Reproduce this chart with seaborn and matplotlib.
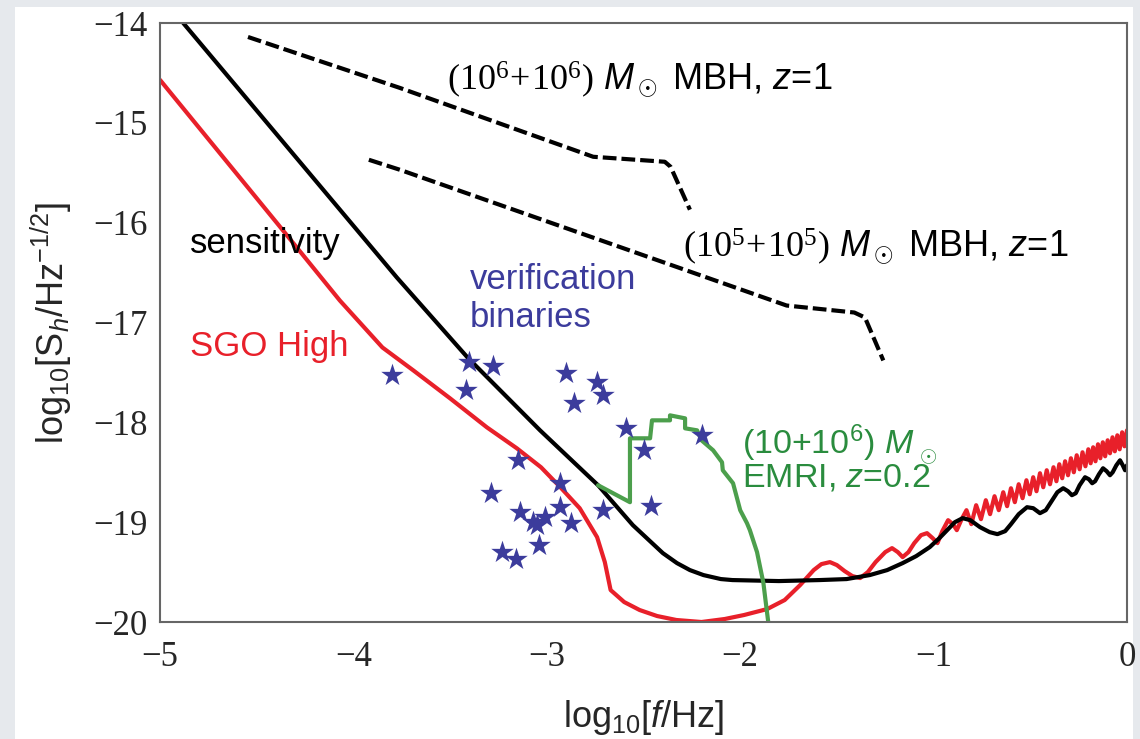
import matplotlib
matplotlib.use("Agg")
import matplotlib.pyplot as plt
import matplotlib.patches as mpatches
import seaborn as sns

# sensitivity curve (black)
sens_x = [-4.88, -3.775, -3.41, -3.035, -2.735, -2.555, -2.40, -2.327, -2.26, -2.19, -2.10, -2.04,
          -1.80, -1.59, -1.45, -1.33, -1.24, -1.16, -1.09, -1.02, -0.97, -0.93, -0.89, -0.85,
          -0.81, -0.76, -0.71, -0.67, -0.63, -0.60, -0.56, -0.517, -0.485, -0.45, -0.42, -0.39,
          -0.36, -0.33, -0.305, -0.285, -0.265, -0.245, -0.217, -0.197, -0.18, -0.165, -0.145,
          -0.124, -0.105, -0.088, -0.074, -0.055, -0.036, -0.022, -0.01, 0.0]
sens_y = [-14.0, -16.55, -17.35, -18.08, -18.63, -19.03, -19.31, -19.41, -19.48, -19.53, -19.57, -19.58,
          -19.59, -19.58, -19.57, -19.53, -19.48, -19.41, -19.34, -19.25, -19.16, -19.08, -19.00, -18.96,
          -18.98, -19.05, -19.10, -19.12, -19.09, -19.02, -18.92, -18.85, -18.86, -18.91, -18.88, -18.79,
          -18.70, -18.66, -18.69, -18.73, -18.71, -18.63, -18.55, -18.57, -18.61, -18.59, -18.52,
          -18.46, -18.49, -18.53, -18.50, -18.43, -18.38, -18.43, -18.48, -18.43]

# SGO High (red)
sgo_x = [-5.0, -4.38, -4.07, -3.85, -3.69, -3.50, -3.31, -3.155, -3.03, -2.93, -2.83,
         -2.74, -2.70, -2.67, -2.60, -2.52, -2.43, -2.33, -2.20, -2.08, -1.98, -1.86, -1.77,
         -1.69, -1.62, -1.58, -1.536, -1.50, -1.46, -1.42, -1.38, -1.34, -1.30, -1.25, -1.215,
         -1.185, -1.16, -1.13, -1.10, -1.065, -1.034, -1.005, -0.98, -0.955, -0.925, -0.90,
         -0.88, -0.855, -0.83, -0.805, -0.78, -0.755, -0.73, -0.708, -0.685, -0.663, -0.64,
         -0.62, -0.60, -0.58, -0.56, -0.54, -0.52, -0.503, -0.485, -0.468, -0.45, -0.433,
         -0.415, -0.398, -0.38, -0.365, -0.35, -0.335, -0.32, -0.305, -0.29, -0.275, -0.26,
         -0.245, -0.23, -0.215, -0.20, -0.188, -0.175, -0.163, -0.15, -0.138, -0.125, -0.113,
         -0.10, -0.088, -0.075, -0.063, -0.05, -0.038, -0.025, -0.013, 0.0]
sgo_y = [-14.57, -16.04, -16.78, -17.25, -17.48, -17.76, -18.05, -18.26, -18.45, -18.65, -18.86,
         -19.15, -19.40, -19.68, -19.80, -19.88, -19.94, -19.98, -20.0, -19.97, -19.93, -19.87, -19.78,
         -19.63, -19.48, -19.42, -19.40, -19.43, -19.49, -19.54, -19.56, -19.50, -19.40, -19.30, -19.26,
         -19.30, -19.35, -19.30, -19.21, -19.13, -19.11, -19.16, -19.21, -19.09, -18.98, -19.02,
         -19.08, -18.97, -18.88, -19.02, -18.83, -18.97, -18.78, -18.92, -18.74, -18.88, -18.70,
         -18.84, -18.66, -18.80, -18.62, -18.76, -18.58, -18.72, -18.55, -18.69, -18.51, -18.65,
         -18.48, -18.62, -18.45, -18.59, -18.42, -18.56, -18.39, -18.53, -18.36, -18.50, -18.33,
         -18.47, -18.30, -18.44, -18.27, -18.41, -18.25, -18.39, -18.22, -18.36, -18.20, -18.34,
         -18.18, -18.31, -18.15, -18.29, -18.13, -18.27, -18.10, -18.24, -18.08]

# EMRI track (green)
emri_x = [-2.735, -2.57, -2.57, -2.466, -2.456, -2.363, -2.363, -2.285, -2.285, -2.223, -2.20,
          -2.14, -2.094, -2.09, -2.037, -2.0, -1.965, -1.95, -1.913, -1.88, -1.868, -1.855]
emri_y = [-18.63, -18.80, -18.16, -18.16, -17.98, -17.98, -17.93, -17.96, -18.06, -18.08, -18.18,
          -18.28, -18.40, -18.48, -18.61, -18.88, -19.01, -19.08, -19.30, -19.61, -19.80, -20.0]

# MBH tracks (dashed)
mbh6_x = [-4.545, -3.76, -2.76, -2.39, -2.36, -2.26]
mbh6_y = [-14.14, -14.65, -15.34, -15.39, -15.44, -15.87]
mbh5_x = [-3.92, -3.76, -1.76, -1.41, -1.355, -1.26]
mbh5_y = [-15.37, -15.47, -16.83, -16.90, -16.95, -17.38]

# verification binaries (stars)
star_x = [-3.80, -3.40, -3.28, -3.42, -2.90, -2.74, -2.71, -2.86, -2.59, -2.50, -2.20, -3.15,
          -2.93, -3.29, -3.14, -3.07, -3.01, -3.05, -2.93, -2.875, -2.71, -2.46, -3.04, -3.23, -3.16]
star_y = [-17.53, -17.40, -17.44, -17.68, -17.51, -17.60, -17.73, -17.81, -18.06, -18.28, -18.13, -18.38,
          -18.61, -18.71, -18.90, -19.00, -18.95, -19.03, -18.85, -19.01, -18.88, -18.84, -19.23, -19.30, -19.37]

x_ticks = [-5, -4, -3, -2, -1, 0]
y_ticks = [-20, -19, -18, -17, -16, -15, -14]

sns.set_theme(style="white")
plt.rcParams["font.family"] = ["Liberation Sans", "DejaVu Sans"]
plt.rcParams["mathtext.fontset"] = "custom"
plt.rcParams["mathtext.rm"] = "Liberation Sans"
plt.rcParams["mathtext.it"] = "Liberation Sans:italic"
plt.rcParams["mathtext.bf"] = "Liberation Sans:bold"
plt.rcParams["mathtext.sf"] = "Liberation Serif"

RED = "#e8202a"
GREEN = "#4c9f4c"
GREEN_TXT = "#2a8c3e"
BLUE = "#3c3c9c"

fig = plt.figure(figsize=(11.4, 7.39), dpi=100, facecolor="#e6e9ed")
fig.add_artist(mpatches.Rectangle((15 / 1140, 0), 1118 / 1140, 1 - 7 / 739,
                                  transform=fig.transFigure, facecolor="white",
                                  edgecolor="none", zorder=-5))
ax = fig.add_axes([160 / 1140, 1 - 622 / 739, 967 / 1140, 599 / 739])

sns.lineplot(x=mbh6_x, y=mbh6_y, ax=ax, color="black", lw=3, sort=False, estimator=None)
ax.lines[-1].set_dashes((3.3, 1.2))
sns.lineplot(x=mbh5_x, y=mbh5_y, ax=ax, color="black", lw=3, sort=False, estimator=None)
ax.lines[-1].set_dashes((3.3, 1.2))
sns.lineplot(x=sgo_x, y=sgo_y, ax=ax, color=RED, lw=3, sort=False, estimator=None)
sns.lineplot(x=sens_x, y=sens_y, ax=ax, color="black", lw=3, sort=False, estimator=None)
sns.lineplot(x=emri_x, y=emri_y, ax=ax, color=GREEN, lw=3, sort=False, estimator=None)
sns.scatterplot(x=star_x, y=star_y, ax=ax, marker="*", s=290, color=BLUE, linewidth=0, zorder=5)

ax.set_xlim(-5, 0)
ax.set_ylim(-20, -14)
ax.set_xticks(x_ticks)
ax.set_yticks(y_ticks)
ax.set_xticklabels([f"\u2212{abs(t)}" if t < 0 else str(t) for t in x_ticks],
                   family="Liberation Serif", fontsize=25)
ax.set_yticklabels([f"\u2212{abs(t)}" for t in y_ticks], family="Liberation Serif", fontsize=25)
ax.tick_params(direction="in", length=10, width=1, color="#555555", pad=9)
ax.tick_params(axis="x", pad=14)
for sp in ax.spines.values():
    sp.set_color("#666666")
    sp.set_linewidth(1.5)

ax.set_xlabel(r"log$_{10}$[$f$/Hz]", fontsize=26, labelpad=17)
ax.set_ylabel(r"log$_{10}$[S$_h$/Hz$^{-1/2}$]", fontsize=26, labelpad=14)

ax.text(-4.845, -16.21, "sensitivity", fontsize=25, color="black", va="center")
ax.text(-4.845, -17.24, "SGO High", fontsize=25, color=RED, va="center")
ax.text(-3.40, -16.76, "verification\nbinaries", fontsize=25, color=BLUE, va="center",
        linespacing=1.2)
ax.text(-3.516, -14.57, r"$\mathsf{(10^6\!+\!10^6)}\ M_\odot$ MBH, $z$=1", fontsize=26,
        color="black", va="center")
ax.text(-2.296, -16.24, r"$\mathsf{(10^5\!+\!10^5)}\ M_\odot$ MBH, $z$=1", fontsize=26,
        color="black", va="center")
ax.text(-1.99, -18.21, r"(10+10$^6$) $M$", fontsize=24.5, color=GREEN_TXT, va="center")
ax.text(-1.99, -18.56, r"EMRI, $z$=0.2", fontsize=24.5, color=GREEN_TXT, va="center")
ax.text(-1.03, -18.34, r"$\odot$", fontsize=16, color=GREEN_TXT, va="center", ha="center")

fig.savefig("out.png", dpi=100, facecolor=fig.get_facecolor())
